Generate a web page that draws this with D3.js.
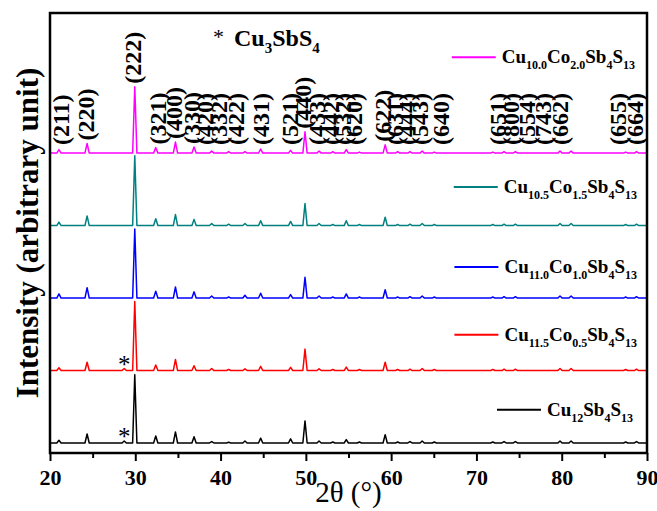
<!DOCTYPE html>
<html>
<head>
<meta charset="utf-8">
<script src="https://cdnjs.cloudflare.com/ajax/libs/d3/7.8.5/d3.min.js"></script>
<style>
  body { margin: 0; background: #fff; }
  text { font-family: "Liberation Serif", "Times New Roman", serif; }
</style>
</head>
<body>
<svg width="657" height="511"></svg>
<script>
// peak positions (2theta, deg) and Miller indices of tetrahedrite
const peakPos = [21.05, 24.35, 29.94, 32.40, 34.71, 36.89, 38.96, 40.95, 42.86, 44.70, 48.21, 49.90, 51.55, 53.16,
                 54.74, 56.28, 59.30, 60.76, 62.21, 63.64, 65.06, 71.92, 73.24, 74.57, 79.80, 81.10, 87.50, 88.77];
const hkl = ["211","220","222","321","400","330","420","332","422","431","521","440","433","442",
             "532","620","622","631","444","543","640","651","800","554","743","662","655","664"];
// where each hkl label sits along 2theta
const labelAt = [21.3, 24.2, 29.7, 32.7, 34.5, 36.6, 38.2, 39.8, 41.8, 44.7, 48.1, 49.7, 51.3, 52.9,
                 54.3, 55.6, 59.0, 60.4, 61.9, 63.4, 65.8, 72.5, 74.0, 75.9, 77.8, 79.8, 86.6, 88.6];

// relative intensities per sample (arbitrary unit, strongest = 100)
const intCo00 = [4, 13, 99, 10, 16, 9, 2, 1, 3, 7, 6, 32, 3, 1.5, 5, 1.5, 12, 1.5, 2, 3, 1.5, 1.5, 2, 2, 3, 3, 1.5, 2];
const intCo05 = [4, 12, 100, 8, 16, 7, 3, 1.5, 2.5, 6, 4.5, 31, 2.5, 1.5, 5, 1.5, 12, 1.5, 2, 3, 1.5, 1.5, 2, 2, 3, 3, 1.5, 2];
const intCo10 = [6, 15, 100, 10, 16, 9, 3, 1.5, 4, 7, 5, 30, 3, 1.5, 6, 1.5, 12, 1.5, 2, 3, 1.5, 1.5, 2, 2, 3, 3, 1.5, 2];
const intCo15 = [5, 14, 101, 10, 16, 9, 3, 2, 3, 7, 6, 32, 3, 1.5, 7, 1.5, 12, 1.5, 2, 3, 1.5, 1.5, 2, 2, 3, 3, 1.5, 2];
const intCo20 = [5, 14, 96, 8, 16, 9, 3, 2, 2, 6, 4, 31, 3, 2, 5, 1.5, 12, 2, 2, 3, 1.5, 1.5, 2, 2, 3, 3, 1.5, 2];
// Cu3SbS4 impurity peak (only in the two Co-poor samples)
const impPos = 28.7;
const impInt = [3, 3, 0, 0, 0];

const offsets = [0, 105, 210, 315, 420];
const colors = ["#000000", "#ff0000", "#0000ff", "#008080", "#ff00ff"];
const legends = [
  [["Cu",0],["12",1],["Sb",0],["4",1],["S",0],["13",1]],
  [["Cu",0],["11.5",1],["Co",0],["0.5",1],["Sb",0],["4",1],["S",0],["13",1]],
  [["Cu",0],["11.0",1],["Co",0],["1.0",1],["Sb",0],["4",1],["S",0],["13",1]],
  [["Cu",0],["10.5",1],["Co",0],["1.5",1],["Sb",0],["4",1],["S",0],["13",1]],
  [["Cu",0],["10.0",1],["Co",0],["2.0",1],["Sb",0],["4",1],["S",0],["13",1]]
];
const legendLevel = [48, 157, 255, 371, 559];   // legend line height, in intensity units
const legendEnd = [633, 637, 637, 637, 635];

const series = [intCo00, intCo05, intCo10, intCo15, intCo20];

const svg = d3.select("svg");
const margin = { top: 13, right: 10, bottom: 58, left: 50 };
const width = +svg.attr("width"), height = +svg.attr("height");
const innerW = width - margin.left - margin.right;
const innerH = height - margin.top - margin.bottom;

const x = d3.scaleLinear().domain([20, 90]).range([margin.left, margin.left + innerW]);
const y = d3.scaleLinear().domain([-14.5, 623]).range([margin.top + innerH, margin.top]);

const hw = 0.25; // half base width of a drawn peak
const line = d3.line().x(d => x(d[0])).y(d => y(d[1]));

const traceOf = (vals, k) => {
  const pk = peakPos.map((p, i) => [p, vals[i]]);
  if (impInt[k] > 0) pk.push([impPos, impInt[k]]);
  pk.sort((a, b) => a[0] - b[0]);
  const pts = [[20, 0]];
  pk.forEach(p => { pts.push([p[0] - hw, 0], [p[0], p[1]], [p[0] + hw, 0]); });
  pts.push([90, 0]);
  return pts.map(p => [p[0], p[1] + offsets[k]]);
};

//traces
svg.append("g").selectAll("path").data(series).enter().append("path")
  .attr("d", (d, k) => line(traceOf(d, k)))
  .attr("fill", "none")
  .attr("stroke", (d, k) => colors[k])
  .attr("stroke-width", 1.5)
  .attr("stroke-linejoin", "round");

// asterisks for Cu3SbS4
[0, 1].forEach(k => {
  svg.append("text")
    .attr("x", x(impPos)).attr("y", y(offsets[k]) + 2)
    .attr("text-anchor", "middle")
    .attr("font-size", 25)
    .text("*");
});

// hkl labels over top trace
const topVals = series[4];
svg.append("g").selectAll("text").data(hkl).enter().append("text")
  .attr("transform", (d, i) => {
    const yb = Math.min(y(offsets[4]) - 8, y(offsets[4] + topVals[i]) - 3);
    return `translate(${x(labelAt[i])},${yb}) rotate(-90)`;
  })
  .attr("dominant-baseline", "central")
  .attr("font-size", 24)
  .attr("font-weight", "bold")
  .text(d => `(${d})`);

// chemical formula helper
const formula = (g, parts, big, small, drop) => {
  const t = g.append("text").attr("font-weight", "bold").attr("font-size", big);
  let down = false;
  parts.forEach(p => {
    const s = t.append("tspan").text(p[0]);
    if (p[1]) s.attr("font-size", small);
    if (p[1] && !down) { s.attr("dy", drop); down = true; }
    else if (!p[1] && down) { s.attr("dy", -drop); down = false; }
  });
  return t;
};

// legend
legends.forEach((parts, k) => {
  const g = svg.append("g");
  const t = formula(g, parts, 19, 12, 6).attr("y", y(legendLevel[k]) + 6);
  const w = t.node().getComputedTextLength();
  const xe = legendEnd[k];
  t.attr("x", xe - w);
  g.append("line")
    .attr("x1", xe - w - 50).attr("x2", xe - w - 6)
    .attr("y1", y(legendLevel[k])).attr("y2", y(legendLevel[k]))
    .attr("stroke", colors[k]).attr("stroke-width", 2);
});

// Cu3SbS4 note
const note = svg.append("g");
note.append("text").attr("x", 213).attr("y", 44).attr("font-size", 22).text("*");
formula(note, [["Cu",0],["3",1],["SbS",0],["4",1]], 24, 15, 7).attr("x", 234).attr("y", 46);

//Axis
const xMajor = d3.axisBottom(x).tickValues(d3.range(20, 91, 10)).tickSize(8).tickFormat(d3.format("d"));
const xMinor = d3.axisBottom(x).tickValues(d3.range(25, 90, 10)).tickSize(5).tickFormat("");
const gx = svg.append("g").attr("transform", `translate(0,${margin.top + innerH})`).call(xMajor);
svg.append("g").attr("transform", `translate(0,${margin.top + innerH})`).call(xMinor)
  .select(".domain").remove();
gx.select(".domain").remove();
svg.selectAll(".tick line").attr("stroke", "#000").attr("stroke-width", 2);
gx.selectAll(".tick text")
  .attr("font-size", 22).attr("font-weight", "bold").attr("dy", "0.95em");

// frame
svg.append("rect")
  .attr("x", margin.left).attr("y", margin.top)
  .attr("width", innerW).attr("height", innerH)
  .attr("fill", "none").attr("stroke", "#000").attr("stroke-width", 2.5);

// axis titles
svg.append("text")
  .attr("x", x(55)).attr("y", 502)
  .attr("text-anchor", "middle")
  .attr("font-size", 29)
  .text("2θ (°)");
svg.append("text")
  .attr("transform", `translate(27,${margin.top + innerH / 2}) rotate(-90)`)
  .attr("text-anchor", "middle").attr("dominant-baseline", "central")
  .attr("font-size", 31).attr("font-weight", "bold")
  .text("Intensity (arbitrary unit)");
</script>
</body>
</html>
